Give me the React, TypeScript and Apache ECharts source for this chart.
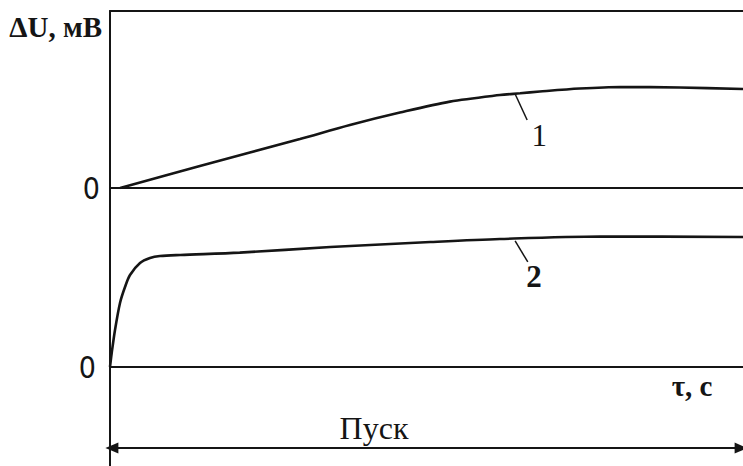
import React, { useEffect, useRef } from "react";
import * as echarts from "echarts";

// Time axis (arbitrary units 0..100 across the run) and signal values, mV-units
const TAU_1 = [1.6, 14.2, 30.0, 37.9, 45.8, 53.7, 61.6, 64.8, 67.9, 74.2, 80.6, 90.0, 100];
const DU_1 = [0, 1.24, 2.77, 3.56, 4.26, 4.88, 5.25, 5.35, 5.45, 5.62, 5.71, 5.68, 5.59];

const TAU_2 = [0, 0.27, 0.79, 1.58, 2.37, 3.16, 4.74, 6.32, 7.9, 11.1, 20.5, 34.8, 50.6, 61.6, 77.4, 100];
const DU_2 = [0, 0.78, 2.07, 3.58, 4.47, 5.14, 5.81, 6.09, 6.2, 6.26, 6.39, 6.7, 6.98, 7.15, 7.29, 7.26];

// Curve labels with their leader lines: [tau, value] of leader start / end and label position
const LEADER_1 = [[64.0, 5.31], [65.9, 3.84]];
const LABEL_1 = [67.8, 2.94];
const LEADER_2 = [[64.0, 7.04], [66.0, 5.87]];
const LABEL_2 = [67.0, 5.08];

// Start span arrow ("Пуск") across the whole time range
const START_SPAN = [[0.3, -4.53], [99.7, -4.53]];

const SERIF = '"Liberation Serif", "Times New Roman", serif';
const INK = "#151515";

export default function App() {
  const ref = useRef<HTMLDivElement>(null);

  useEffect(() => {
    if (!ref.current) return;
    const chart = echarts.init(ref.current, undefined, { renderer: "svg" });

    const axisLine = { show: true, onZero: true, lineStyle: { color: INK, width: 2 } };
    const hidden = {
      axisTick: { show: false },
      splitLine: { show: false },
    };

    const zeroLabel = (margin: number) => ({
      show: true,
      margin,
      color: INK,
      fontSize: 30,
      fontFamily: '"Liberation Sans Narrow", "DejaVu Sans Condensed", "Liberation Sans", sans-serif',
      formatter: (v: number) => (v === 0 ? "0" : ""),
    });

    const labelPoint = (coord: number[], text: string, bold: boolean) => ({
      symbol: "circle",
      symbolSize: 1,
      itemStyle: { color: "rgba(0,0,0,0)" },
      label: {
        show: true,
        position: "inside",
        formatter: text,
        color: INK,
        fontSize: 31,
        fontWeight: bold ? "bold" : "normal",
        fontFamily: SERIF,
      },
      data: [{ coord }],
    });

    chart.setOption({
      animation: false,
      backgroundColor: "#ffffff",
      grid: [
        { left: 110, right: 0, top: 11, height: 177 },
        { left: 110, right: 0, top: 188, bottom: 0 },
      ],
      xAxis: [
        { type: "value", gridIndex: 0, min: 0, max: 100, axisLine, axisLabel: { show: false }, ...hidden },
        { type: "value", gridIndex: 1, min: 0, max: 100, axisLine, axisLabel: { show: false }, ...hidden },
        {
          type: "value",
          gridIndex: 0,
          position: "top",
          min: 0,
          max: 100,
          axisLine: { show: true, onZero: false, lineStyle: { color: INK, width: 2 } },
          axisLabel: { show: false },
          ...hidden,
        },
      ],
      yAxis: [
        {
          type: "value",
          gridIndex: 0,
          min: 0,
          max: 10,
          interval: 10,
          axisLine: { show: true, onZero: false, lineStyle: { color: INK, width: 2 } },
          axisLabel: zeroLabel(10),
          ...hidden,
        },
        {
          type: "value",
          gridIndex: 1,
          min: -5.53,
          max: 10,
          axisLine: { show: true, onZero: false, lineStyle: { color: INK, width: 2 } },
          axisLabel: zeroLabel(14),
          ...hidden,
        },
      ],
      series: [
        {
          type: "line",
          xAxisIndex: 0,
          yAxisIndex: 0,
          data: TAU_1.map((t, i) => [t, DU_1[i]]),
          smooth: 0.3,
          showSymbol: false,
          lineStyle: { color: INK, width: 2.6 },
          markLine: {
            silent: true,
            symbol: "none",
            label: { show: false },
            lineStyle: { color: INK, width: 1.5, type: "solid" },
            data: [[{ coord: LEADER_1[0] }, { coord: LEADER_1[1] }]],
          },
          markPoint: labelPoint(LABEL_1, "1", false),
        },
        {
          type: "line",
          xAxisIndex: 1,
          yAxisIndex: 1,
          data: TAU_2.map((t, i) => [t, DU_2[i]]),
          smooth: 0.3,
          showSymbol: false,
          lineStyle: { color: INK, width: 2.6 },
          markLine: {
            silent: true,
            label: { show: false },
            data: [
              [
                { coord: LEADER_2[0], symbol: "none", lineStyle: { color: INK, width: 1.5, type: "solid" } },
                { coord: LEADER_2[1], symbol: "none" },
              ],
              [
                {
                  coord: START_SPAN[0],
                  symbol: "triangle",
                  symbolSize: [11, 13],
                  lineStyle: { color: INK, width: 2, type: "solid" },
                },
                { coord: START_SPAN[1], symbol: "triangle", symbolSize: [11, 13] },
              ],
            ],
          },
          markPoint: labelPoint(LABEL_2, "2", true),
        },
      ],
      graphic: [
        {
          type: "text",
          x: 102,
          y: 27,
          style: {
            text: "ΔU, мВ",
            align: "right",
            verticalAlign: "middle",
            textAlign: "right",
            textVerticalAlign: "middle",
            font: `bold 29px ${SERIF}`,
            fill: INK,
          },
        },
        {
          type: "text",
          x: 692,
          y: 386,
          style: {
            text: "τ, с",
            align: "center",
            verticalAlign: "middle",
            textAlign: "center",
            textVerticalAlign: "middle",
            font: `bold 29px ${SERIF}`,
            fill: INK,
          },
        },
        {
          type: "text",
          x: 374,
          y: 428,
          style: {
            text: "Пуск",
            align: "center",
            verticalAlign: "middle",
            textAlign: "center",
            textVerticalAlign: "middle",
            font: `32px ${SERIF}`,
            fill: INK,
          },
        },
      ],
    });

    return () => chart.dispose();
  }, []);

  return (
    <div
      ref={ref}
      style={{ position: "fixed", left: 0, top: 0, width: 743, height: 466, background: "#fff" }}
    />
  );
}
